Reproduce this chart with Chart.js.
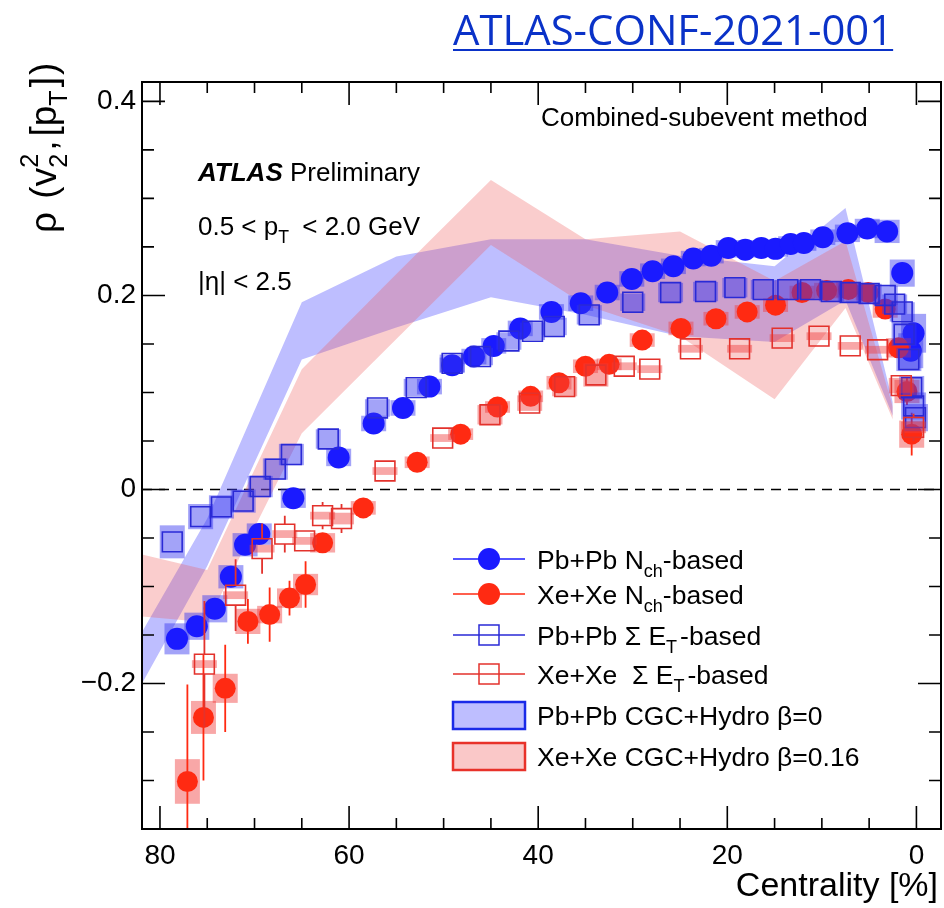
<!DOCTYPE html>
<html>
<head>
<meta charset="utf-8">
<script src="https://cdn.jsdelivr.net/npm/chart.js@4.4.0/dist/chart.umd.min.js"></script>
<style>
html, body { margin: 0; padding: 0; background: #fff; }
</style>
</head>
<body>
<canvas id="chart" width="944" height="908"></canvas>
<script>
// axis ticks
var xMajor = [80, 60, 40, 20, 0];
var yMajor = [-0.2, 0, 0.2, 0.4];

// Pb+Pb Nch-based
var pbNchX = [78.2, 76.1, 74.2, 72.5, 71.0, 69.5, 65.9, 61.1, 57.4, 54.3, 51.5, 49.1, 46.8, 44.7, 41.9, 38.6, 35.5, 32.7, 30.1, 27.9, 25.7, 23.6, 21.7, 19.9, 18.1, 16.4, 14.9, 13.3, 11.9, 9.9, 7.3, 5.2, 3.1, 1.5, 0.6, 0.3];
var pbNchY = [-0.154, -0.141, -0.123, -0.090, -0.057, -0.046, -0.009, 0.033, 0.068, 0.084, 0.106, 0.128, 0.137, 0.148, 0.166, 0.183, 0.192, 0.203, 0.217, 0.225, 0.230, 0.238, 0.241, 0.249, 0.247, 0.249, 0.248, 0.253, 0.254, 0.260, 0.264, 0.269, 0.266, 0.223, 0.143, 0.161];
var pbNchSys = [0.016, 0.014, 0.014, 0.012, 0.012, 0.011, 0.010, 0.009, 0.008, 0.008, 0.008, 0.008, 0.008, 0.008, 0.008, 0.008, 0.008, 0.008, 0.008, 0.008, 0.008, 0.008, 0.008, 0.008, 0.008, 0.008, 0.008, 0.008, 0.008, 0.008, 0.009, 0.010, 0.012, 0.014, 0.018, 0.020];

// Xe+Xe Nch-based
var xeNchX = [77.1, 75.4, 73.1, 70.7, 68.4, 66.3, 64.6, 62.8, 58.5, 52.8, 48.2, 44.3, 40.8, 37.8, 35.0, 32.5, 29.0, 24.9, 21.2, 17.9, 14.9, 12.1, 9.5, 7.2, 5.1, 3.3, 1.9, 1.0, 0.5];
var xeNchY = [-0.301, -0.235, -0.205, -0.136, -0.129, -0.112, -0.098, -0.055, -0.019, 0.028, 0.057, 0.085, 0.096, 0.110, 0.127, 0.129, 0.154, 0.166, 0.176, 0.183, 0.190, 0.203, 0.205, 0.206, 0.203, 0.186, 0.146, 0.101, 0.057];
var xeNchErr = [0.100, 0.065, 0.045, 0.023, 0.028, 0.018, 0.024, 0.009, 0.008, 0.006, 0.006, 0.006, 0.006, 0.006, 0.006, 0.006, 0.006, 0.006, 0.006, 0.006, 0.006, 0.006, 0.006, 0.006, 0.006, 0.008, 0.010, 0.014, 0.022];
var xeNchSys = [0.023, 0.017, 0.015, 0.013, 0.009, 0.010, 0.011, 0.010, 0.007, 0.006, 0.006, 0.006, 0.006, 0.007, 0.007, 0.006, 0.007, 0.007, 0.007, 0.007, 0.007, 0.007, 0.008, 0.008, 0.008, 0.009, 0.010, 0.012, 0.014];

// Pb+Pb Sum ET-based
var pbEtX = [78.7, 75.7, 73.5, 71.2, 69.4, 67.8, 66.1, 62.2, 57.0, 52.9, 49.1, 46.1, 43.1, 40.6, 38.3, 34.6, 30.0, 26.0, 22.3, 19.2, 16.2, 13.6, 11.2, 9.0, 7.0, 5.0, 3.3, 2.3, 1.5, 1.3, 0.8, 0.5, 0.3, 0.1];
var pbEtY = [-0.054, -0.028, -0.018, -0.012, 0.003, 0.021, 0.036, 0.052, 0.084, 0.105, 0.130, 0.137, 0.153, 0.163, 0.168, 0.180, 0.193, 0.203, 0.204, 0.208, 0.206, 0.206, 0.206, 0.204, 0.203, 0.202, 0.200, 0.191, 0.183, 0.160, 0.134, 0.105, 0.086, 0.074];
var pbEtSys = [0.017, 0.013, 0.012, 0.012, 0.011, 0.011, 0.011, 0.010, 0.009, 0.009, 0.009, 0.009, 0.009, 0.009, 0.009, 0.010, 0.009, 0.010, 0.010, 0.010, 0.010, 0.010, 0.010, 0.010, 0.010, 0.010, 0.010, 0.010, 0.010, 0.012, 0.012, 0.012, 0.014, 0.014];

// Xe+Xe Sum ET-based
var xeEtX = [75.3, 72.0, 69.2, 66.8, 64.7, 62.8, 60.8, 56.2, 50.1, 45.1, 40.9, 37.2, 33.9, 30.9, 28.2, 23.9, 18.7, 14.2, 10.3, 7.0, 4.1, 1.6, 0.3];
var xeEtY = [-0.180, -0.109, -0.061, -0.046, -0.053, -0.027, -0.030, 0.019, 0.053, 0.077, 0.089, 0.106, 0.118, 0.127, 0.124, 0.145, 0.145, 0.156, 0.158, 0.148, 0.144, 0.107, 0.064];
var xeEtErr = [0.065, 0.037, 0.026, 0.019, 0.010, 0.014, 0.015, 0.008, 0.006, 0.006, 0.006, 0.006, 0.006, 0.006, 0.006, 0.006, 0.006, 0.006, 0.006, 0.006, 0.006, 0.010, 0.014];
var xeEtSys = [0.004, 0.004, 0.004, 0.004, 0.004, 0.004, 0.006, 0.004, 0.004, 0.010, 0.008, 0.010, 0.012, 0.004, 0.004, 0.004, 0.004, 0.004, 0.004, 0.004, 0.004, 0.008, 0.006];

// CGC+Hydro model bands
var bandC = [81.9, 75, 65, 55, 45, 35, 25, 15, 7.5, 2.5];
var pbBandHi = [-0.147, -0.030, 0.193, 0.240, 0.258, 0.258, 0.241, 0.230, 0.290, 0.090];
var pbBandLo = [-0.200, -0.079, 0.134, 0.167, 0.198, 0.180, 0.158, 0.152, 0.195, 0.076];
var xeBandHi = [-0.067, -0.083, 0.124, 0.222, 0.319, 0.258, 0.266, 0.215, 0.256, 0.085];
var xeBandLo = [-0.131, -0.137, 0.058, 0.155, 0.252, 0.190, 0.158, 0.093, 0.187, 0.072];

var FONT = '"Liberation Sans", Arial, sans-serif';
var blue = '#1a1aff', red = '#ff2a12';
var blueSq = '#2a2ad6', redSq = '#e3322c';
var blueSys = 'rgba(50,50,240,0.45)', redSys = 'rgba(240,60,60,0.45)';

function pts(xs, ys) {
  return xs.map(function (x, i) { return {x: x, y: ys[i]}; });
}

function bandLine(ys, fill, color, order) {
  return {
    type: 'line', data: pts(bandC, ys), borderWidth: 0, borderColor: 'rgba(0,0,0,0)',
    pointRadius: 0, tension: 0, fill: fill, backgroundColor: color, order: order
  };
}

// draw text with sub/superscripts
function drawRich(ctx, x, y, parts, size) {
  var cx = x;
  parts.forEach(function (p) {
    if (p.gap) { cx += p.gap; return; }
    var small = p.sub || p.sup;
    var fs = small ? size * 0.68 : size;
    ctx.font = (p.style || '') + ' ' + fs + 'px ' + FONT;
    var dy = p.sub ? size * 0.3 : (p.sup ? -size * 0.5 : 0);
    ctx.fillText(p.t, cx, y + dy);
    if (!p.keep) cx += ctx.measureText(p.t).width;
  });
  return cx - x;
}

var errPlugin = {
  id: 'errs',
  beforeDatasetDraw: function (chart, args) {
    var ds = chart.data.datasets[args.index];
    if (!ds.sysErr) return;
    var ctx = chart.ctx, xs = chart.scales.x, ys = chart.scales.y, a = chart.chartArea;
    var half = ds.markHalf || 10;
    ctx.save();
    ctx.beginPath();
    ctx.rect(a.left, a.top, a.right - a.left, a.bottom - a.top);
    ctx.clip();
    ds.data.forEach(function (p, i) {
      var px = xs.getPixelForValue(p.x), py = ys.getPixelForValue(p.y);
      var t = ys.getPixelForValue(p.y + ds.sysErr[i]), b = ys.getPixelForValue(p.y - ds.sysErr[i]);
      ctx.fillStyle = ds.sysColor;
      ctx.fillRect(px - 12.5, t, 25, b - t);
      if (ds.statErr) {
        var t2 = ys.getPixelForValue(p.y + ds.statErr[i]), b2 = ys.getPixelForValue(p.y - ds.statErr[i]);
        ctx.strokeStyle = ds.errColor;
        ctx.lineWidth = 1.8;
        ctx.beginPath();
        if (py - t2 > half) { ctx.moveTo(px, t2); ctx.lineTo(px, py - half); }
        if (b2 - py > half) { ctx.moveTo(px, py + half); ctx.lineTo(px, b2); }
        ctx.stroke();
      }
    });
    ctx.restore();
  }
};

var framePlugin = {
  id: 'frame',
  beforeDatasetsDraw: function (chart) {
    var ctx = chart.ctx, a = chart.chartArea, ys = chart.scales.y;
    var y0 = ys.getPixelForValue(0);
    ctx.save();
    ctx.strokeStyle = '#000';
    ctx.lineWidth = 1.5;
    ctx.setLineDash([10, 7]);
    ctx.beginPath();
    ctx.moveTo(a.left, y0);
    ctx.lineTo(a.right, y0);
    ctx.stroke();
    ctx.restore();
  },
  afterDatasetsDraw: function (chart) {
    var ctx = chart.ctx, a = chart.chartArea, xs = chart.scales.x, ys = chart.scales.y;
    ctx.save();
    ctx.strokeStyle = '#000';
    ctx.lineWidth = 2;
    ctx.strokeRect(a.left, a.top, a.right - a.left, a.bottom - a.top);
    ctx.lineWidth = 1.6;
    ctx.beginPath();
    var v, p, len;
    for (v = 0; v <= 80; v += 5) {
      p = xs.getPixelForValue(v);
      len = (v % 20 === 0) ? 23 : 11;
      ctx.moveTo(p, a.bottom); ctx.lineTo(p, a.bottom - len);
      ctx.moveTo(p, a.top); ctx.lineTo(p, a.top + len);
    }
    for (var k = -7; k <= 8; k++) {
      v = k * 0.05;
      p = ys.getPixelForValue(v);
      len = (k % 4 === 0) ? 23 : 12;
      ctx.moveTo(a.left, p); ctx.lineTo(a.left + len, p);
      ctx.moveTo(a.right, p); ctx.lineTo(a.right - len, p);
    }
    ctx.stroke();
    ctx.restore();
  },
  afterDraw: function (chart) {
    var ctx = chart.ctx;
    ctx.save();
    ctx.fillStyle = '#000';
    ctx.textAlign = 'left';
    ctx.textBaseline = 'alphabetic';

    // document reference
    ctx.fillStyle = '#0a32c8';
    ctx.font = '41.8px "Open Sans", sans-serif';
    ctx.fillText('ATLAS-CONF-2021-001', 453, 45);
    var w = ctx.measureText('ATLAS-CONF-2021-001').width;
    ctx.fillRect(453, 49, w, 2);

    ctx.fillStyle = '#000';
    ctx.font = '26px ' + FONT;
    ctx.fillText('Combined-subevent method', 541, 126);

    drawRich(ctx, 198, 181, [{t: 'ATLAS', style: 'italic bold'}, {t: ' Preliminary'}], 26);
    drawRich(ctx, 198, 235, [{t: '0.5 < p'}, {t: 'T', sub: true}, {gap: 6}, {t: ' < 2.0 GeV'}], 26);
    drawRich(ctx, 198, 290, [{t: '|\u03b7| < 2.5'}], 26);

    // x title
    ctx.font = '34px ' + FONT;
    ctx.textAlign = 'right';
    ctx.fillText('Centrality [%]', 938, 896);
    ctx.textAlign = 'left';

    // y title
    ctx.save();
    ctx.translate(56, 233);
    ctx.rotate(-Math.PI / 2);
    drawRich(ctx, 0, 0, [{t: '\u03c1 '}, {gap: 3}, {t: '(v'}, {t: '2', sup: true, keep: true}, {t: '2', sub: true}, {gap: 3},
      {t: ','}, {gap: 4}, {t: '[p'}, {t: 'T', sub: true}, {gap: 3}, {t: ']'}, {gap: 2}, {t: ')'}], 37);
    ctx.restore();

    // legend
    var lx0 = 453, lx1 = 525, mx = 489, tx = 537;
    var rows = [
      {y: 559, c: blue, m: 'circle', parts: [{t: 'Pb+Pb N'}, {t: 'ch', sub: true}, {t: '-based'}]},
      {y: 594, c: red, m: 'circle', parts: [{t: 'Xe+Xe N'}, {t: 'ch', sub: true}, {t: '-based'}]},
      {y: 635, c: blueSq, m: 'square', parts: [{t: 'Pb+Pb \u03a3 E'}, {t: 'T', sub: true}, {gap: 3}, {t: '-based'}]},
      {y: 674, c: redSq, m: 'square', parts: [{t: 'Xe+Xe  \u03a3 E'}, {t: 'T', sub: true}, {gap: 3}, {t: '-based'}]},
      {y: 715, c: '#1a2ae8', m: 'box', fill: 'rgb(190,190,255)', parts: [{t: 'Pb+Pb CGC+Hydro \u03b2=0'}]},
      {y: 756, c: '#e8322a', m: 'box', fill: 'rgb(250,200,200)', parts: [{t: 'Xe+Xe CGC+Hydro \u03b2=0.16'}]}
    ];
    rows.forEach(function (r) {
      if (r.m === 'box') {
        ctx.fillStyle = r.fill;
        ctx.fillRect(lx0, r.y - 13, lx1 - lx0, 27);
        ctx.strokeStyle = r.c;
        ctx.lineWidth = 2.5;
        ctx.strokeRect(lx0, r.y - 13, lx1 - lx0, 27);
      } else {
        ctx.strokeStyle = r.c;
        ctx.lineWidth = 1.5;
        ctx.beginPath();
        if (r.m === 'circle') {
          ctx.moveTo(lx0, r.y); ctx.lineTo(lx1, r.y); ctx.stroke();
          ctx.fillStyle = r.c;
          ctx.beginPath(); ctx.arc(mx, r.y, 11, 0, Math.PI * 2); ctx.fill();
        } else {
          ctx.moveTo(lx0, r.y); ctx.lineTo(mx - 10, r.y);
          ctx.moveTo(mx + 10, r.y); ctx.lineTo(lx1, r.y);
          ctx.stroke();
          ctx.strokeRect(mx - 10, r.y - 10, 20, 20);
          ctx.beginPath(); ctx.moveTo(mx - 10, r.y); ctx.lineTo(mx + 10, r.y); ctx.stroke();
        }
      }
      ctx.fillStyle = '#000';
      drawRich(ctx, tx, r.y + 10, r.parts, 26.5);
    });
    ctx.restore();
  }
};

var chart = new Chart(document.getElementById('chart').getContext('2d'), {
  type: 'scatter',
  data: {
    datasets: [
      bandLine(pbBandHi, false, 'rgba(0,0,0,0)', 8),
      bandLine(pbBandLo, '-1', 'rgba(70,70,255,0.35)', 8),
      bandLine(xeBandHi, false, 'rgba(0,0,0,0)', 7),
      bandLine(xeBandLo, '-1', 'rgba(240,90,90,0.3)', 7),
      {
        label: 'Pb+Pb Nch-based', data: pts(pbNchX, pbNchY), pointStyle: 'circle', pointRadius: 11,
        backgroundColor: blue, borderWidth: 0, order: 4,
        sysErr: pbNchSys, sysColor: blueSys, markHalf: 11
      },
      {
        label: 'Xe+Xe Nch-based', data: pts(xeNchX, xeNchY), pointStyle: 'circle', pointRadius: 10.5,
        backgroundColor: red, borderWidth: 0, order: 3,
        sysErr: xeNchSys, sysColor: redSys, statErr: xeNchErr, errColor: red, markHalf: 10
      },
      {
        label: 'Pb+Pb SumET-based', data: pts(pbEtX, pbEtY), pointStyle: 'rect', pointRadius: 14,
        backgroundColor: 'rgba(0,0,0,0)', borderColor: blueSq, borderWidth: 1.6, order: 2,
        sysErr: pbEtSys, sysColor: blueSys, markHalf: 10
      },
      {
        label: 'Xe+Xe SumET-based', data: pts(xeEtX, xeEtY), pointStyle: 'rect', pointRadius: 14,
        backgroundColor: 'rgba(0,0,0,0)', borderColor: redSq, borderWidth: 1.6, order: 1,
        sysErr: xeEtSys, sysColor: redSys, statErr: xeEtErr, errColor: redSq, markHalf: 10
      }
    ]
  },
  options: {
    responsive: false,
    animation: false,
    events: [],
    layout: {padding: {top: 82, right: 3, left: 0, bottom: 0}, autoPadding: false},
    plugins: {legend: {display: false}, tooltip: {enabled: false}},
    scales: {
      x: {
        type: 'linear', reverse: true, min: -2.6, max: 81.9,
        afterBuildTicks: function (s) { s.ticks = xMajor.map(function (v) { return {value: v}; }); },
        afterFit: function (s) { s.height = 79; },
        grid: {display: false, drawTicks: false}, border: {display: false},
        ticks: {
          font: {family: FONT, size: 28}, color: '#000', padding: 10, maxRotation: 0, autoSkip: false,
          callback: function (v) { return String(v); }
        }
      },
      y: {
        type: 'linear', min: -0.35, max: 0.42,
        afterBuildTicks: function (s) { s.ticks = yMajor.map(function (v) { return {value: v}; }); },
        afterFit: function (s) { s.width = 142; },
        grid: {display: false, drawTicks: false}, border: {display: false},
        ticks: {
          font: {family: FONT, size: 28}, color: '#000', padding: 6, autoSkip: false,
          callback: function (v) { return v === 0 ? '0' : (v < 0 ? '\u2212' : '') + Math.abs(v).toFixed(1); }
        }
      }
    }
  },
  plugins: [errPlugin, framePlugin]
});
</script>
</body>
</html>
